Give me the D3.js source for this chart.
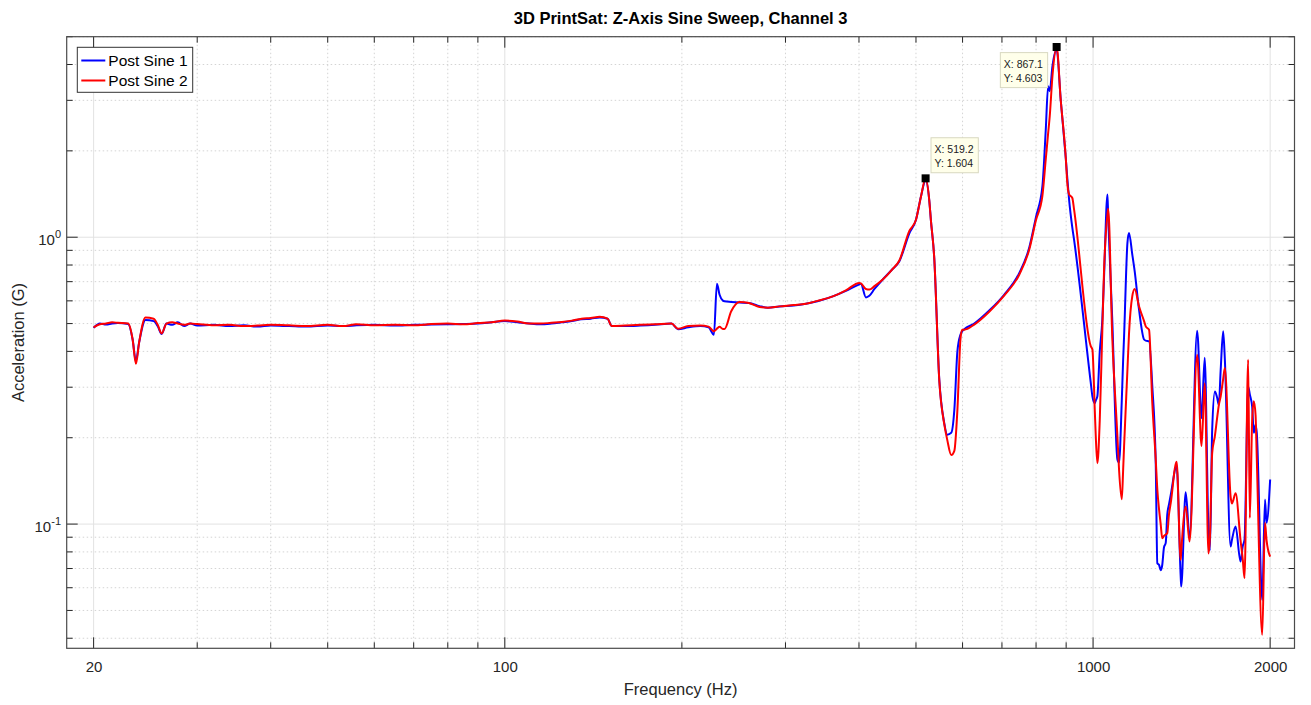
<!DOCTYPE html>
<html>
<head>
<meta charset="utf-8">
<script src="https://d3js.org/d3.v7.min.js"></script>
<style>
  body { margin: 0; background: #fff; }
  text { font-family: "Liberation Sans", Arial, sans-serif; fill: #262626; }
</style>
</head>
<body>
<svg id="chart"></svg>
<script>
// frequency (Hz) shared by both sweeps
var freq = [20, 20.5, 21, 21.5, 22, 22.9, 23.3, 23.6, 23.9, 24.5, 25.3, 25.7, 26.1, 26.6, 27.2, 27.8, 28.5, 29.2,
  30, 32, 34, 36, 38, 40, 43, 46, 50, 53, 56, 60, 65, 70, 75, 80, 85, 90, 95, 100, 105, 110, 115, 120, 125,
  130, 135, 140, 145, 149.5, 152, 160, 170, 180, 192, 197, 205, 215, 222, 226.7, 229.4, 231.8, 234.8, 236.4,
  242.6, 250.6, 260, 271, 280, 293, 310, 325, 340, 361, 380, 400.6, 403, 411, 416.6, 425, 439, 455, 468.5,
  487, 500, 510, 519.2, 526.6, 530, 537, 547.7, 558.5, 565, 574, 581, 588, 595, 599, 604, 628, 666, 706, 749,
  779, 800, 820, 831, 838.7, 844, 853, 867.1, 881, 899, 904, 910.5, 922, 928.3, 991, 997.4, 1006.8, 1010.7,
  1017, 1026.6, 1037, 1044, 1058, 1061, 1078, 1100, 1107, 1119, 1125, 1129, 1144, 1151, 1166, 1177, 1197,
  1221, 1229, 1245, 1261, 1278, 1286, 1295, 1303, 1311, 1320, 1329, 1337, 1346, 1355, 1387, 1409, 1412,
  1437, 1459, 1503, 1529, 1548, 1571, 1580, 1594, 1611, 1625, 1636, 1648, 1664, 1675, 1713, 1722, 1747,
  1781, 1797, 1809, 1835, 1847, 1864, 1876, 1889, 1898, 1939, 1960, 1972, 2000];

var postSine1 = [0.483, 0.50, 0.496, 0.50, 0.502, 0.498, 0.44, 0.37, 0.43, 0.515, 0.51, 0.49, 0.46, 0.50, 0.495, 0.505, 0.49, 0.50,
  0.492, 0.495, 0.49, 0.493, 0.488, 0.492, 0.49, 0.488, 0.492, 0.49, 0.493, 0.495, 0.492, 0.495, 0.496, 0.497, 0.498, 0.50, 0.505, 0.51, 0.505, 0.50, 0.497, 0.50, 0.505,
  0.51, 0.518, 0.52, 0.525, 0.52, 0.49, 0.49, 0.492, 0.495, 0.50, 0.478, 0.485, 0.49, 0.485, 0.457, 0.688, 0.63, 0.601, 0.598,
  0.595, 0.592, 0.59, 0.575, 0.568, 0.574, 0.578, 0.586, 0.598, 0.622, 0.65, 0.685, 0.688, 0.617, 0.625, 0.66, 0.712, 0.77, 0.825,
  1.03, 1.15, 1.39, 1.58, 1.35, 1.15, 0.85, 0.32, 0.225, 0.205, 0.208, 0.25, 0.40, 0.457, 0.47, 0.478, 0.50, 0.555, 0.63, 0.75,
  0.92, 1.18, 1.5, 2.37, 3.36, 3.23, 3.95, 4.5, 3.02, 1.87, 1.61, 1.35, 1.08, 0.98, 0.311, 0.279, 0.264, 0.27,
  0.279, 0.40, 0.516, 0.73, 1.41, 1.18, 0.516, 0.168, 0.164, 0.27, 0.375, 0.45, 0.956, 1.035, 0.87, 0.76, 0.56,
  0.44, 0.436, 0.434, 0.302, 0.163, 0.073, 0.072, 0.069, 0.072, 0.083, 0.086, 0.108, 0.117, 0.126, 0.159, 0.066, 0.0606,
  0.129, 0.0904, 0.472, 0.234, 0.38, 0.095, 0.081, 0.213, 0.29, 0.276, 0.26, 0.345, 0.47, 0.375, 0.0836, 0.088, 0.098,
  0.074, 0.084, 0.088, 0.302, 0.283, 0.257, 0.208, 0.222, 0.208, 0.0544, 0.1218, 0.101, 0.143];

var postSine2 = [0.485, 0.497, 0.50, 0.505, 0.503, 0.50, 0.44, 0.362, 0.43, 0.525, 0.52, 0.495, 0.462, 0.50, 0.505, 0.50, 0.495, 0.50,
  0.498, 0.493, 0.495, 0.49, 0.492, 0.495, 0.493, 0.49, 0.495, 0.49, 0.497, 0.493, 0.495, 0.493, 0.498, 0.50, 0.497, 0.502, 0.505, 0.512, 0.508, 0.50, 0.50, 0.503, 0.506,
  0.512, 0.52, 0.523, 0.528, 0.52, 0.49, 0.492, 0.495, 0.497, 0.50, 0.48, 0.49, 0.492, 0.488, 0.47, 0.48, 0.487, 0.479, 0.479,
  0.552, 0.595, 0.59, 0.571, 0.568, 0.574, 0.58, 0.586, 0.60, 0.622, 0.653, 0.693, 0.69, 0.66, 0.657, 0.675, 0.712, 0.77, 0.83,
  1.05, 1.15, 1.39, 1.604, 1.35, 1.15, 0.85, 0.318, 0.223, 0.197, 0.174, 0.18, 0.25, 0.44, 0.476, 0.476, 0.496, 0.55, 0.626, 0.74,
  0.906, 1.15, 1.39, 1.87, 2.3, 2.64, 3.64, 4.603, 3.02, 1.87, 1.55, 1.41, 1.37, 1.25, 0.417, 0.406, 0.249, 0.202,
  0.163, 0.231, 0.476, 0.77, 1.2, 1.256, 0.45, 0.202, 0.155, 0.122, 0.155, 0.186, 0.345, 0.46, 0.623, 0.66, 0.574,
  0.51, 0.489, 0.476, 0.264, 0.168, 0.132, 0.112, 0.10, 0.0893, 0.091, 0.092, 0.093, 0.108, 0.118, 0.165, 0.075, 0.08,
  0.115, 0.087, 0.389, 0.187, 0.31, 0.079, 0.09, 0.177, 0.203, 0.234, 0.26, 0.279, 0.32, 0.35, 0.125, 0.118, 0.128,
  0.088, 0.075, 0.0648, 0.374, 0.105, 0.23, 0.268, 0.24, 0.17, 0.0411, 0.101, 0.088, 0.077];

var seriesNames = ["Post Sine 1", "Post Sine 2"];
var seriesColors = ["#0000ff", "#ff0000"];

var xTickValues = [20, 100, 1000, 2000];
var xMinorValues = [30, 40, 50, 60, 70, 80, 90, 200, 300, 400, 500, 600, 700, 800, 900];
var yTickExponents = [-1, 0];
var yMinorValues = [0.04, 0.05, 0.06, 0.07, 0.08, 0.09, 0.2, 0.3, 0.4, 0.5, 0.6, 0.7, 0.8, 0.9, 2, 3, 4, 5];

var tipFreq = [519.2, 867.1];
var tipAccel = [1.604, 4.603];

var width = 1311, height = 705;
var pLeft = 66.7, pRight = 1294.5, pTop = 36.7, pBottom = 648.3;

var svg = d3.select("#chart").attr("width", width).attr("height", height);

var x = d3.scaleLog().domain([18, 2200]).range([pLeft, pRight]);
var y = d3.scaleLog().domain([0.0369, 5]).range([pBottom, pTop]);

// grid
var grid = svg.append("g");
grid.selectAll(".vminor").data(xMinorValues).enter().append("line")
    .attr("x1", function(d) { return x(d); }).attr("x2", function(d) { return x(d); })
    .attr("y1", pTop).attr("y2", pBottom)
    .attr("stroke", "#d4d4d4").attr("stroke-dasharray", "1.5,2.5");
grid.selectAll(".hminor").data(yMinorValues).enter().append("line")
    .attr("x1", pLeft).attr("x2", pRight)
    .attr("y1", function(d) { return y(d); }).attr("y2", function(d) { return y(d); })
    .attr("stroke", "#d4d4d4").attr("stroke-dasharray", "1.5,2.5");
grid.selectAll(".vmajor").data(xTickValues).enter().append("line")
    .attr("x1", function(d) { return x(d); }).attr("x2", function(d) { return x(d); })
    .attr("y1", pTop).attr("y2", pBottom)
    .attr("stroke", "#e2e2e2");
grid.selectAll(".hmajor").data(yTickExponents).enter().append("line")
    .attr("x1", pLeft).attr("x2", pRight)
    .attr("y1", function(d) { return y(Math.pow(10, d)); }).attr("y2", function(d) { return y(Math.pow(10, d)); })
    .attr("stroke", "#e2e2e2");

// curves
svg.append("clipPath").attr("id", "clip").append("rect")
    .attr("x", pLeft).attr("y", pTop).attr("width", pRight - pLeft).attr("height", pBottom - pTop);

var line = d3.line()
    .curve(d3.curveMonotoneX)
    .x(function(d) { return x(d[0]); })
    .y(function(d) { return y(d[1]); });

[postSine1, postSine2].forEach(function(vals, i) {
  svg.append("path")
      .datum(freq.map(function(f, k) { return [f, vals[k]]; }))
      .attr("clip-path", "url(#clip)")
      .attr("fill", "none")
      .attr("stroke", seriesColors[i])
      .attr("stroke-width", 2)
      .attr("stroke-linejoin", "round")
      .attr("d", line);
});

// axes
var xAxis = d3.axisBottom(x).tickValues(xTickValues).tickSize(0).tickPadding(13)
    .tickFormat(d3.format("d"));
var gx = svg.append("g").attr("transform", "translate(0," + pBottom + ")").call(xAxis);
gx.select(".domain").remove();
gx.selectAll("text").attr("font-size", 15).attr("font-family", null).attr("fill", "#262626");

var ticks = svg.append("g").attr("stroke", "#262626").attr("stroke-width", 1);
function xTick(v, len) {
  ticks.append("line").attr("x1", x(v)).attr("x2", x(v)).attr("y1", pBottom).attr("y2", pBottom - len);
  ticks.append("line").attr("x1", x(v)).attr("x2", x(v)).attr("y1", pTop).attr("y2", pTop + len);
}
function yTick(v, len) {
  ticks.append("line").attr("x1", pLeft).attr("x2", pLeft + len).attr("y1", y(v)).attr("y2", y(v));
  ticks.append("line").attr("x1", pRight).attr("x2", pRight - len).attr("y1", y(v)).attr("y2", y(v));
}
xTickValues.forEach(function(v) { xTick(v, 11); });
xMinorValues.forEach(function(v) { xTick(v, 6); });
yTickExponents.forEach(function(e) { yTick(Math.pow(10, e), 11); });
yMinorValues.forEach(function(v) { yTick(v, 6); });

svg.append("rect")
    .attr("x", pLeft).attr("y", pTop).attr("width", pRight - pLeft).attr("height", pBottom - pTop)
    .attr("fill", "none").attr("stroke", "#4a4a4a").attr("stroke-width", 1.2);

yTickExponents.forEach(function(e) {
  var t = svg.append("text").attr("x", 61).attr("y", y(Math.pow(10, e)) + 8)
      .attr("text-anchor", "end").attr("font-size", 15);
  t.append("tspan").text("10");
  t.append("tspan").attr("dy", -7).attr("font-size", 11).text(e);
});

// titles
svg.append("text").attr("x", (pLeft + pRight) / 2).attr("y", 24)
    .attr("text-anchor", "middle").attr("font-size", 16.5).attr("font-weight", "bold")
    .style("fill", "#000").text("3D PrintSat: Z-Axis Sine Sweep, Channel 3");
svg.append("text").attr("x", (pLeft + pRight) / 2).attr("y", 695)
    .attr("text-anchor", "middle").attr("font-size", 16.5).text("Frequency (Hz)");
svg.append("text").attr("transform", "translate(24," + (pTop + pBottom) / 2 + ") rotate(-90)")
    .attr("text-anchor", "middle").attr("font-size", 16.5).text("Acceleration (G)");

// legend
var lg = svg.append("g").attr("transform", "translate(77.3,47.3)");
lg.append("rect").attr("width", 115.4).attr("height", 45)
    .attr("fill", "#fff").attr("stroke", "#333").attr("stroke-width", 1);
seriesNames.forEach(function(name, i) {
  var cy = 13.2 + i * 20;
  lg.append("line").attr("x1", 4).attr("x2", 28).attr("y1", cy).attr("y2", cy)
      .attr("stroke", seriesColors[i]).attr("stroke-width", 2);
  lg.append("text").attr("x", 31).attr("y", cy + 5.5).attr("font-size", 15.5)
      .style("fill", "#000").text(name);
});

// data tips
tipFreq.forEach(function(f, i) {
  var px = x(f), py = y(tipAccel[i]);
  var bw = 47.3, bh = 35;
  var bx = px + 5.4, by = py - 5.6 - bh;
  if (by < pTop) { bx = px - 9 - bw; by = py + 5.6; }
  var g = svg.append("g");
  g.append("rect").attr("x", bx).attr("y", by).attr("width", bw).attr("height", bh)
      .attr("fill", "#ffffea").attr("stroke", "#d8d8c0").attr("stroke-width", 1);
  g.append("text").attr("x", bx + 3.5).attr("y", by + 15).attr("font-size", 10.5)
      .style("fill", "#1a1a1a").text("X: " + f);
  g.append("text").attr("x", bx + 3.5).attr("y", by + 29).attr("font-size", 10.5)
      .style("fill", "#1a1a1a").text("Y: " + tipAccel[i]);
  g.append("rect").attr("x", px - 4).attr("y", py - 4).attr("width", 8).attr("height", 8)
      .attr("fill", "#000");
});
</script>
</body>
</html>
